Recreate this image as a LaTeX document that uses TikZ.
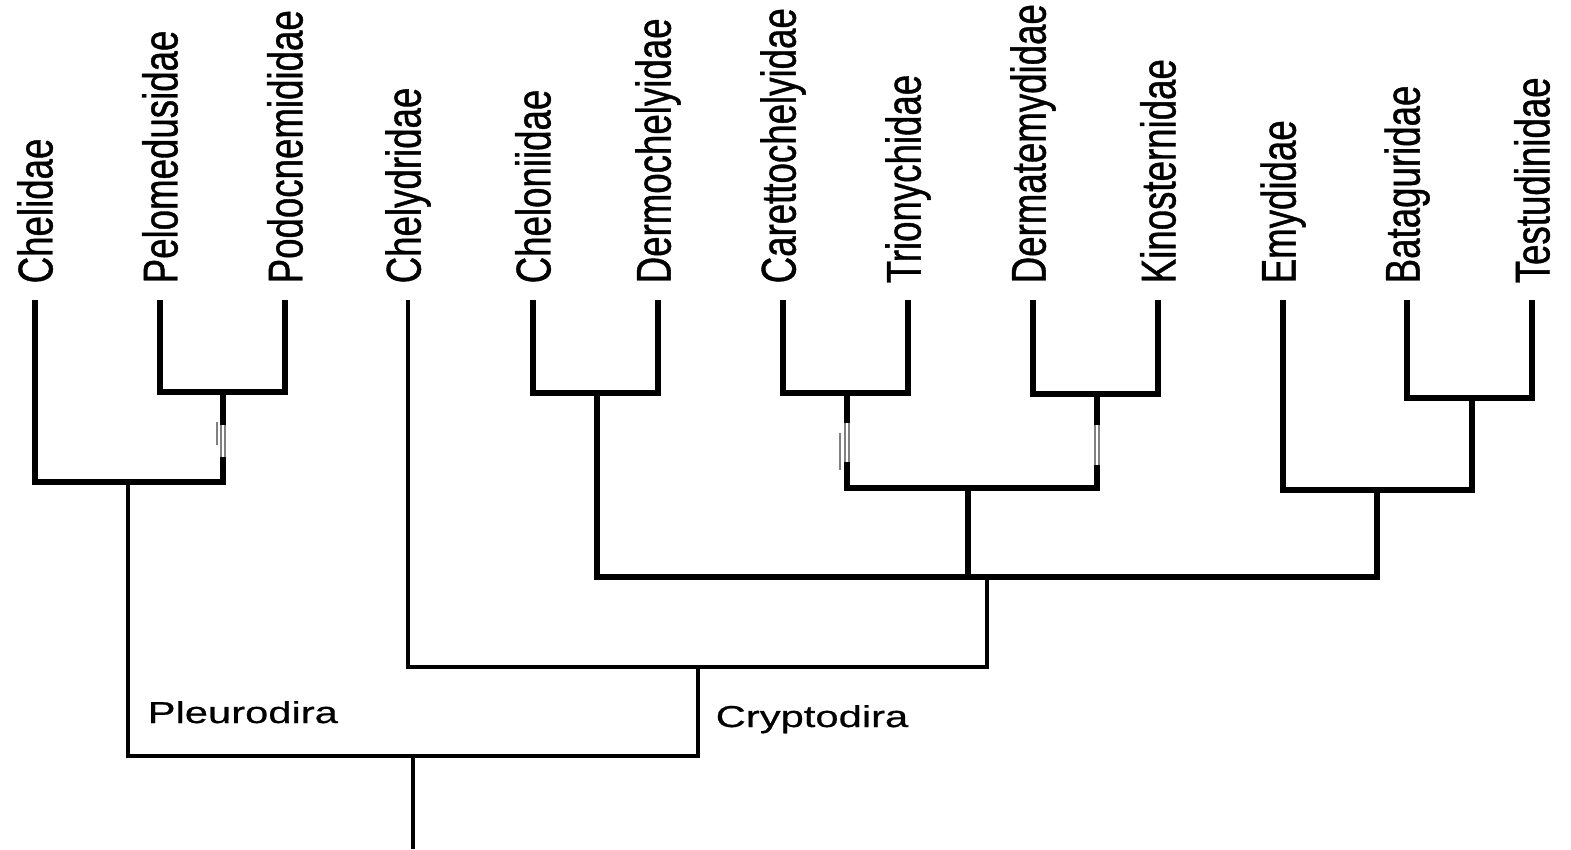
\documentclass[tikz,border=0pt]{standalone}
\usepackage{fontspec}
\newfontfamily\leaffont{Liberation Sans}[FakeStretch=0.75, FakeBold=0.8]
\newfontfamily\cladefont{Liberation Sans}[FakeStretch=1.38, FakeBold=0.6]
\tikzset{
    leaf/.style={rotate=90, anchor=west, inner sep=0pt,
        font=\leaffont\fontsize{13.9}{14}\selectfont},
    clade/.style={anchor=base west, inner sep=0pt,
        font=\cladefont\fontsize{8.6}{9}\selectfont},
    branch/.style={line width=1.7pt},
    trunk/.style={line width=1.3pt},
    gapline/.style={gray, line width=0.3pt}
}
% white band with thin outlines on a stem
\newcommand{\stemGap}[3]{%
    \fill[white] (#1-2.5,#2) rectangle (#1+2.5,#3);
    \draw[gapline] (#1-2,#2) -- (#1-2,#3);
    \draw[gapline] (#1+2,#2) -- (#1+2,#3);
}

\begin{document}
\begin{tikzpicture}[x=0.01cm, y=-0.01cm]
    \useasboundingbox (0,0) rectangle (1571,849);
    % leaves
    \foreach \n/\x/\t in {chel/35/Chelidae, pelo/160/Pelomedusidae,
        podo/285/Podocnemididae, chely/408/Chelydridae,
        cheloni/533/Cheloniidae, dermo/658/Dermochelyidae,
        caretto/783/Carettochelyidae, triony/908/Trionychidae,
        dermat/1033/Dermatemydidae, kino/1158/Kinosternidae,
        emyd/1283/Emydidae, batag/1407/Bataguridae, testu/1532/Testudinidae} {
        \node[leaf] (\n) at (\x,284) {\t};
        \coordinate (\n-tip) at (\x,300);
    }
    % junctions
    \coordinate (j1) at (223,392);
    \coordinate (j2) at (128,482);
    \coordinate (j3) at (597,393);
    \coordinate (j4) at (847,393);
    \coordinate (j5) at (1097,394);
    \coordinate (j6) at (968,488);
    \coordinate (j7) at (1472,398);
    \coordinate (j8) at (1377,490);
    \coordinate (j9) at (987,577);
    \coordinate (j10) at (698,667);
    \coordinate (root) at (413,756);
    \coordinate (base) at (413,849);

    \draw[branch] (pelo-tip) |- (j1) -| (podo-tip);
    \draw[branch] (chel-tip) |- (j2) -| (j1);
    \draw[branch] (cheloni-tip) |- (j3) -| (dermo-tip);
    \draw[branch] (caretto-tip) |- (j4) -| (triony-tip);
    \draw[branch] (dermat-tip) |- (j5) -| (kino-tip);
    \draw[branch] (j4) |- (j6) -| (j5);
    \draw[branch] (batag-tip) |- (j7) -| (testu-tip);
    \draw[branch] (emyd-tip) |- (j8) -| (j7);
    \draw[branch] (j3) |- (j9) -| (j8);
    \draw[branch] (j6) -- (j6 |- j9);
    \draw[trunk] (chely-tip) |- (j10) -| (j9);
    \draw[trunk] (j2) |- (root) -| (j10);
    \draw[trunk] (root) -- (base);

    \stemGap{223}{425}{457}
    \draw[gapline] (217,422) -- (217,445);
    \stemGap{847}{423}{462}
    \draw[gapline] (840,433) -- (840,470);
    \stemGap{1097}{425}{465}

    \node[clade] (pleuro) at (147,723) {Pleurodira};
    \node[clade] (crypto) at (715,727) {Cryptodira};
\end{tikzpicture}
\end{document}
